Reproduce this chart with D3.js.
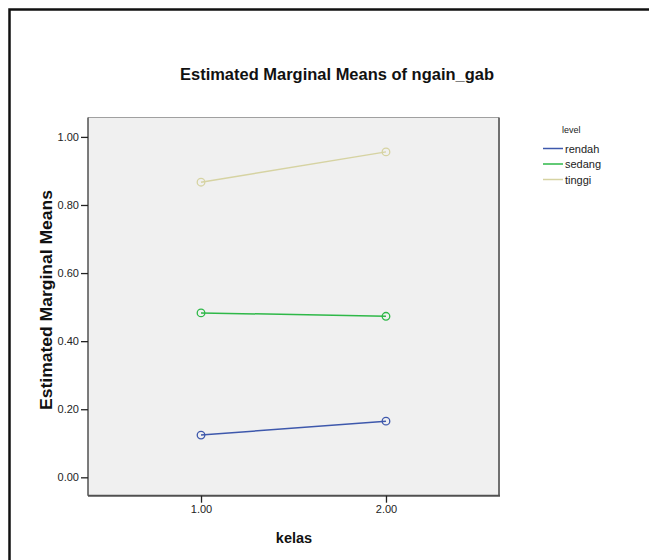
<!DOCTYPE html>
<html><head><meta charset="utf-8">
<script src="https://cdn.jsdelivr.net/npm/d3@7"></script>
<style>
html,body{margin:0;padding:0;background:#fff;}
svg text{font-family:"Liberation Sans",Arial,sans-serif;}
</style></head>
<body>
<svg id="c" width="649" height="560"></svg>
<script>
const categories = [1, 2];
const seriesNames = ["rendah", "sedang", "tinggi"];
const rendah = [0.124, 0.165];
const sedang = [0.483, 0.473];
const tinggi = [0.867, 0.956];
const seriesColors = ["#3e58ac", "#2eb848", "#d6d3a2"];
const yTicks = [0, 0.2, 0.4, 0.6, 0.8, 1.0];
const xTicks = [1, 2];

const svg = d3.select("#c");
const L = 88, R = 499, T = 117.5, B = 495.7;

// outer frame
svg.append("path").attr("d","M9.5,560 L9.5,9.5 L649,9.5")
  .attr("fill","none").attr("stroke","#111").attr("stroke-width",2.5);

const x = d3.scaleLinear().domain([0.389, 2.611]).range([L, R]);
const y = d3.scaleLinear().domain([-0.054, 1.057]).range([B, T]);

// plot background
svg.append("rect").attr("x",L).attr("y",T).attr("width",R-L).attr("height",B-T)
  .attr("fill","#f0f0f0").attr("stroke","none");
svg.append("line").attr("x1",L).attr("x2",R).attr("y1",T).attr("y2",T).attr("stroke","#a0a0a0").attr("stroke-width",1);
svg.append("line").attr("x1",R).attr("x2",R).attr("y1",T).attr("y2",B).attr("stroke","#707070").attr("stroke-width",2);
svg.append("line").attr("x1",L).attr("x2",R+1).attr("y1",B).attr("y2",B).attr("stroke","#505050").attr("stroke-width",2);
svg.append("line").attr("x1",L).attr("x2",L).attr("y1",T).attr("y2",B).attr("stroke","#505050").attr("stroke-width",1.5);

// axes
const yAxis = svg.append("g").attr("transform",`translate(${L},0)`)
  .call(d3.axisLeft(y).tickValues(yTicks).tickFormat(d3.format(".2f")).tickSize(7).tickPadding(2));
const xAxis = svg.append("g").attr("transform",`translate(0,${B})`)
  .call(d3.axisBottom(x).tickValues(xTicks).tickFormat(d3.format(".2f")).tickSize(7).tickPadding(3));
[yAxis, xAxis].forEach(a => {
  a.select(".domain").remove();
  a.selectAll(".tick line").attr("stroke","#222").attr("stroke-width",1.3);
  a.selectAll(".tick text").attr("fill","#222").style("font-size","11px");
});

// series
const data = [rendah, sedang, tinggi];
const line = d3.line().x((d,i)=>x(categories[i])).y(d=>y(d));
data.forEach((vals, si) => {
  svg.append("path").datum(vals).attr("d", line)
    .attr("fill","none").attr("stroke",seriesColors[si]).attr("stroke-width",1.5);
  svg.selectAll(null).data(vals).enter().append("circle")
    .attr("cx",(d,i)=>x(categories[i])).attr("cy",d=>y(d)).attr("r",3.8)
    .attr("fill","none").attr("stroke",seriesColors[si]).attr("stroke-width",1.3);
});

// title
svg.append("text").attr("x",337).attr("y",80).attr("text-anchor","middle")
  .style("font-size","16.5px").style("font-weight","bold").attr("fill","#111")
  .attr("textLength",314).attr("lengthAdjust","spacingAndGlyphs")
  .text("Estimated Marginal Means of ngain_gab");
// axis titles
svg.append("text").attr("transform","translate(52,300) rotate(-90)").attr("text-anchor","middle")
  .style("font-size","16px").style("font-weight","bold").attr("fill","#111")
  .attr("textLength",220).attr("lengthAdjust","spacingAndGlyphs")
  .text("Estimated Marginal Means");
svg.append("text").attr("x",294).attr("y",543).attr("text-anchor","middle")
  .style("font-size","14.5px").style("font-weight","bold").attr("fill","#111")
  .text("kelas");

// legend
svg.append("text").attr("x",562).attr("y",133).style("font-size","9px").attr("fill","#222").text("level");
seriesNames.forEach((n, i) => {
  const ly = 148.5 + i*15.5;
  svg.append("line").attr("x1",543).attr("x2",563).attr("y1",ly).attr("y2",ly)
    .attr("stroke",seriesColors[i]).attr("stroke-width",1.5);
  svg.append("text").attr("x",565).attr("y",ly+4).style("font-size","11px").attr("fill","#222").text(n);
});
</script>
</body></html>
